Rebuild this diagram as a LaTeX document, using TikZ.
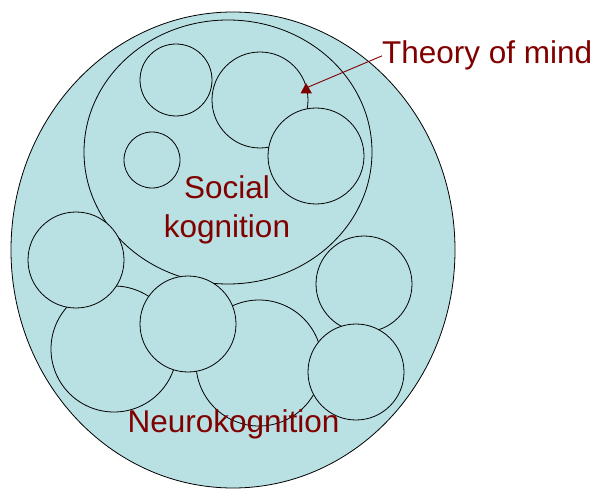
\documentclass[tikz,border=0pt]{standalone}
\usepackage{fontspec}
\setmainfont{Liberation Sans}
\definecolor{bluefill}{RGB}{185,224,227}
\definecolor{darkred}{RGB}{128,0,0}
\begin{document}
\begin{tikzpicture}[x=1pt,y=-1pt,
  blob/.style={draw=black,line width=0.8pt,fill=bluefill},
  lab/.style={text=darkred,font=\fontsize{31.5}{38}\selectfont,inner sep=0pt,anchor=base},
  tomline/.style={draw=darkred,line width=0.9pt}]
\useasboundingbox (0,0) rectangle (597,489);
% outer ellipse
\path[blob] (233,250) ellipse [x radius=222, y radius=238];
% social cognition
\path[blob] (228,152) ellipse [x radius=144, y radius=132];
\path[blob] (176,80) circle [radius=36];
\path[blob] (260,100) circle [radius=48];
\path[blob] (316,156) circle [radius=48];
\path[blob] (152,160) circle [radius=28];
% neurocognition circles
\path[blob] (114,349) circle [radius=63];
\path[blob] (259,363) circle [radius=63];
\path[blob] (364,284) circle [radius=48];
\path[blob] (76,260) circle [radius=48];
\path[blob] (188,324) circle [radius=48];
\path[blob] (356,372) circle [radius=48];
% labels
\node[lab] (social1) at (227,199) {Social};
\node[lab] (social2) at (227,237) {kognition};
\node[lab] (neuro) at (233.5,432) {Neurokognition};
\node[lab,anchor=base west] (tom) at (382,64) {Theory of mind};
% arrow
\coordinate (tip) at (306,88);
\draw[tomline] (tom.west) -- (tip);
\fill[darkred] (300.5,93.5) -- (306,83) -- (312,93.5) -- cycle;
\end{tikzpicture}
\end{document}
